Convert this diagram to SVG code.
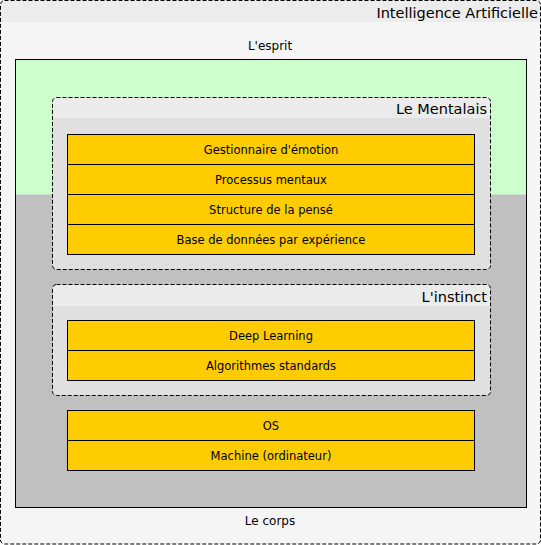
<svg xmlns="http://www.w3.org/2000/svg" width="541" height="545" viewBox="0 0 541 545">
<style>
.dash{stroke:#000;stroke-width:1;stroke-dasharray:4,2}
.cell{fill:#ffcc00;stroke:#000;stroke-width:1}
.lbl{font-family:"DejaVu Sans","Liberation Sans",sans-serif;font-size:11.5px;fill:#000;text-anchor:middle}
.title{font-family:"DejaVu Sans","Liberation Sans",sans-serif;font-size:14.5px;fill:#000;text-anchor:end}
.plain{font-family:"DejaVu Sans","Liberation Sans",sans-serif;font-size:12px;fill:#000;text-anchor:middle}
</style>
<g id="ia">
<rect x="0.5" y="0.5" width="540" height="543.5" rx="4" fill="#f5f5f5"/>
<path d="M1,22 V4.5 A4,4 0 0 1 4.5,1 H536.5 A4,4 0 0 1 540,4.5 V22 Z" fill="#ececec"/>
<rect x="0.5" y="0.5" width="540" height="543.5" rx="4" fill="none" class="dash"/>
<text x="538" y="18" class="title">Intelligence Artificielle</text>
</g>
<g id="esprit-corps">
<rect x="15.5" y="59.5" width="511" height="135" fill="#ccffcc"/>
<rect x="15.5" y="194.5" width="511" height="313" fill="#c0c0c0"/>
<rect x="15.5" y="59.5" width="511" height="448" fill="none" stroke="#000" stroke-width="1"/>
<text x="270" y="50" class="plain">L'esprit</text>
<text x="270" y="525" class="plain">Le corps</text>
</g>
<g id="mentalais">
<rect x="52.5" y="97.5" width="438" height="172" rx="4" fill="#e0e0e0"/>
<path d="M53,118 V101.5 A3.5,3.5 0 0 1 56.5,98 H486.5 A3.5,3.5 0 0 1 490,101.5 V118 Z" fill="#ebebeb"/>
<rect x="52.5" y="97.5" width="438" height="172" rx="4" fill="none" class="dash"/>
<text x="487" y="114" class="title">Le Mentalais</text>
<g id="gestion"><rect x="67.5" y="134.5" width="407" height="30" class="cell"/><text x="271" y="153.5" class="lbl">Gestionnaire d'émotion</text></g>
<g id="processus"><rect x="67.5" y="164.5" width="407" height="30" class="cell"/><text x="271" y="183.5" class="lbl">Processus mentaux</text></g>
<g id="structure"><rect x="67.5" y="194.5" width="407" height="30" class="cell"/><text x="271" y="213.5" class="lbl">Structure de la pensé</text></g>
<g id="base"><rect x="67.5" y="224.5" width="407" height="30" class="cell"/><text x="271" y="243.5" class="lbl">Base de données par expérience</text></g>
</g>
<g id="instinct">
<rect x="52.5" y="284.5" width="438" height="111" rx="4" fill="#e0e0e0"/>
<path d="M53,306 V288.5 A3.5,3.5 0 0 1 56.5,285 H486.5 A3.5,3.5 0 0 1 490,288.5 V306 Z" fill="#ebebeb"/>
<rect x="52.5" y="284.5" width="438" height="111" rx="4" fill="none" class="dash"/>
<text x="487" y="302" class="title">L'instinct</text>
<g id="deep"><rect x="67.5" y="320.5" width="407" height="30" class="cell"/><text x="271" y="339.5" class="lbl">Deep Learning</text></g>
<g id="algo"><rect x="67.5" y="350.5" width="407" height="30" class="cell"/><text x="271" y="369.5" class="lbl">Algorithmes standards</text></g>
</g>
<g id="systeme">
<g id="os"><rect x="67.5" y="410.5" width="407" height="30" class="cell"/><text x="271" y="429.5" class="lbl">OS</text></g>
<g id="machine"><rect x="67.5" y="440.5" width="407" height="30" class="cell"/><text x="271" y="459.5" class="lbl">Machine (ordinateur)</text></g>
</g>
<g id="connectors"/>
</svg>
